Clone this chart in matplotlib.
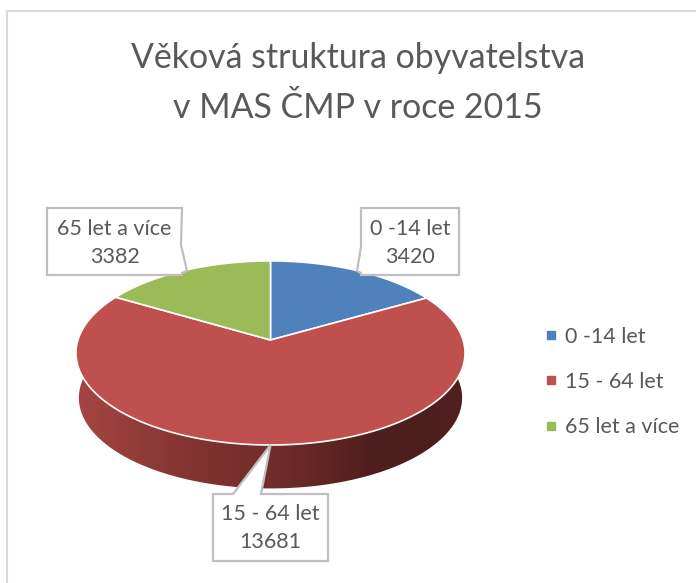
import numpy as np
import matplotlib
matplotlib.use("Agg")
import matplotlib.pyplot as plt
from matplotlib.lines import Line2D
from matplotlib.patches import Polygon
from matplotlib.colors import LinearSegmentedColormap

# data
categories = ["0 -14 let", "15 - 64 let", "65 let a více"]
values = [3420, 13681, 3382]
colors = ["#4f81bd", "#c0504d", "#9bbb59"]
title = "Věková struktura obyvatelstva\nv MAS ČMP v roce 2015"

plt.rcParams["font.family"] = ["Lato", "DejaVu Sans"]
grey = "#595959"
box_edge = "#bfbfbf"

fig = plt.figure(figsize=(6.96, 5.83), dpi=100)
ax = fig.add_axes([0, 0, 1, 1])

# pie geometry, in pixels (the axes run like the picture)
cx, cy = 270.5, 340
a, b, k = 192.6, 90.2, 0.141
depth, shrink = 45, 0.985


def rim(theta, scale=1.0, dy=0.0):
    # theta clockwise from the top, perspective tilt with k
    u = np.sin(theta)
    v = np.cos(theta)
    d = 1 + k * v
    return cx + scale * a * u / d, cy + dy + scale * b * v * (-1) / d


# side of the pie, gradient clipped to the outline
front = np.radians(np.linspace(82, 278, 200))
x1, y1 = rim(front)
x2, y2 = rim(front, shrink, depth)
outline = np.column_stack([np.r_[x1, x2[::-1]], np.r_[y1, y2[::-1]]])
side_cmap = LinearSegmentedColormap.from_list("side", [
    (0.0, "#4f201d"), (0.22, "#4c1e1c"), (0.44, "#6b2a28"),
    (0.50, "#702c2a"), (0.75, "#873634"), (1.0, "#a54543")])
grad = np.linspace(0, 1, 400).reshape(1, -1)
img = ax.imshow(grad, cmap=side_cmap, extent=(465, 76, 500, 340), aspect="auto", zorder=1)
clip = Polygon(outline, closed=True, transform=ax.transData, facecolor="none", edgecolor="none")
ax.add_patch(clip)
img.set_clip_path(clip)

# top of the pie
angles = np.r_[0, np.cumsum(values)] / sum(values) * 2 * np.pi
for i in range(len(values)):
    t = np.linspace(angles[i], angles[i + 1], 150)
    px, py = rim(t)
    pts = np.column_stack([np.r_[cx, px], np.r_[cy, py]])
    ax.add_patch(Polygon(pts, closed=True, facecolor=colors[i], edgecolor="white",
                         linewidth=1.2, joinstyle="round", zorder=2))

# callouts
callouts = [
    [(361, 208), (459, 208), (459, 275), (361, 275), (361, 273), (357, 271), (361, 247)],
    [(213, 494), (233, 494), (270.5, 445), (261, 494), (328, 494), (328, 561), (213, 561)],
    [(47, 208), (182, 208), (181, 245), (187, 271), (182, 273), (182, 275), (47, 275)],
]
label_pos = [(410, 243), (270.5, 528), (114.5, 243)]
for i in range(len(values)):
    ax.add_patch(Polygon(callouts[i], closed=True, facecolor="white", edgecolor=box_edge,
                         linewidth=1.6, zorder=3))
    ax.text(label_pos[i][0], label_pos[i][1], categories[i] + "\n" + str(values[i]), color=grey,
            fontsize=15.5, ha="center", va="center", linespacing=1.55, zorder=4)

# title and frame
ax.text(358, 83, title, color=grey, fontsize=24.4, ha="center", va="center", linespacing=1.7)
ax.plot([6.5, 6.5, 696], [583, 11, 11], color="#d9d9d9", linewidth=1.5)

handles = [Line2D([], [], linestyle="none", marker="s", markersize=5.5, color=c) for c in colors]
ax.legend(handles, categories, loc="center left", bbox_to_anchor=(542, 382),
          bbox_transform=ax.transData, frameon=False, fontsize=15.5, labelcolor=grey,
          labelspacing=1.17, handlelength=0.8, handletextpad=0.25, borderpad=0, borderaxespad=0)

ax.set_xlim(0, 696)
ax.set_ylim(583, 0)
ax.axis("off")
fig.savefig("out.png", dpi=100)
